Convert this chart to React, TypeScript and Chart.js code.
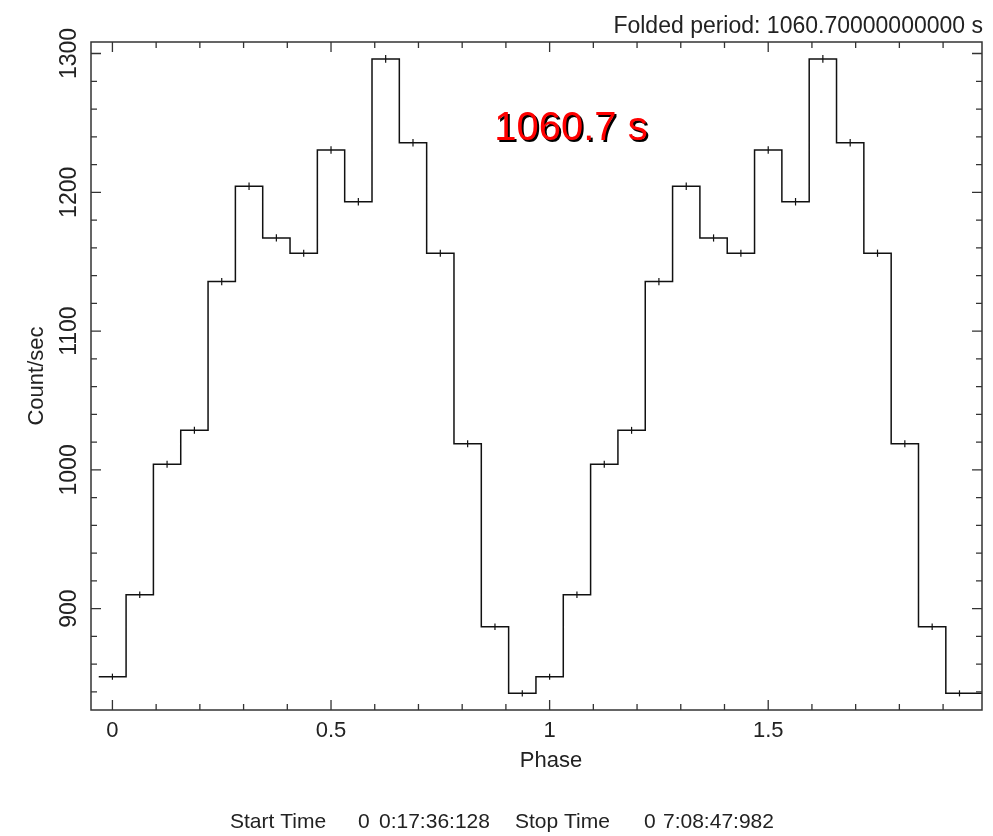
import { useEffect, useRef } from 'react';
import { Chart, registerables } from 'chart.js';

Chart.register(...registerables);

// ---- data ----
const binsPerCycle = 16;
const cycles = 2;
const profile = [851, 910, 1004, 1028.5, 1135.7, 1204.3, 1167.1, 1156.1, 1230.4, 1193.2, 1296.1, 1235.7, 1156.1, 1018.9, 887, 839];
const profileErr = [2.2, 2.3, 2.5, 2.5, 2.6, 2.7, 2.6, 2.6, 2.7, 2.7, 2.8, 2.7, 2.6, 2.5, 2.3, 2.2];
const xMin = -0.049;
const xMax = 1.989;
const yMin = 827;
const yMax = 1308.3;
const xTickValues = [0, 0.5, 1, 1.5];
const xTickLabels = ['0', '0.5', '1', '1.5'];
const yTickValues = [900, 1000, 1100, 1200, 1300];
const yTickLabels = ['900', '1000', '1100', '1200', '1300'];
const xMinorPerUnit = 10;
const yMinorStep = 20;
const periodText = 'Folded period: 1060.70000000000 s';
const bigLabel = '1060.7 s';
const xTitle = 'Phase';
const timeParts = ['Start Time', '0', '0:17:36:128', 'Stop Time', '0', '7:08:47:982'];

// ---- derived tables ----
const binW = 1 / binsPerCycle;
const centers: number[] = [];
const values: number[] = [];
const errs: number[] = [];
for (let c = 0; c < cycles; c++) {
  for (let k = 0; k < binsPerCycle; k++) {
    centers.push(c + k * binW);
    values.push(profile[k]);
    errs.push(profileErr[k]);
  }
}
const stepPoints = centers.map((x, i) => ({ x: x - binW / 2, y: values[i] }));
stepPoints.push({ x: xMax, y: values[values.length - 1] });

const FONT = "'Liberation Sans', Arial, Helvetica, sans-serif";
const INK = '#222';

const framePlugin = {
  id: 'frameTicks',
  afterDatasetsDraw(chart: any) {
    const { ctx, scales } = chart;
    const x = scales.x;
    const y = scales.y;
    ctx.save();
    ctx.strokeStyle = '#111';
    ctx.lineWidth = 1.2;
    centers.forEach((cx, i) => {
      const px = x.getPixelForValue(cx);
      ctx.beginPath();
      ctx.moveTo(px, y.getPixelForValue(values[i] - errs[i]));
      ctx.lineTo(px, y.getPixelForValue(values[i] + errs[i]));
      ctx.stroke();
    });
    ctx.restore();
  },
  afterDraw(chart: any) {
    const { ctx, chartArea: a, scales } = chart;
    const x = scales.x;
    const y = scales.y;
    ctx.save();
    ctx.strokeStyle = '#333';
    ctx.lineWidth = 1.5;
    ctx.strokeRect(a.left, a.top, a.right - a.left, a.bottom - a.top);
    ctx.lineWidth = 1.3;
    const major = 10;
    const minor = 6;
    for (let i = Math.ceil(xMin * xMinorPerUnit); i <= Math.floor(xMax * xMinorPerUnit); i++) {
      const v = i / xMinorPerUnit;
      const isMajor = xTickValues.some((t) => Math.abs(t - v) < 1e-9);
      const len = isMajor ? major : minor;
      const px = x.getPixelForValue(v);
      ctx.beginPath();
      ctx.moveTo(px, a.bottom);
      ctx.lineTo(px, a.bottom - len);
      ctx.moveTo(px, a.top);
      ctx.lineTo(px, a.top + len);
      ctx.stroke();
    }
    for (let i = Math.ceil(yMin / yMinorStep); i <= Math.floor(yMax / yMinorStep); i++) {
      const v = i * yMinorStep;
      const isMajor = yTickValues.includes(v);
      const len = isMajor ? major : minor;
      const py = y.getPixelForValue(v);
      ctx.beginPath();
      ctx.moveTo(a.left, py);
      ctx.lineTo(a.left + len, py);
      ctx.moveTo(a.right, py);
      ctx.lineTo(a.right - len, py);
      ctx.stroke();
    }
    // texts
    ctx.fillStyle = INK;
    ctx.font = `23px ${FONT}`;
    ctx.textAlign = 'right';
    ctx.textBaseline = 'alphabetic';
    ctx.fillText(periodText, a.right + 1, 33);

    ctx.font = `22px ${FONT}`;
    ctx.textAlign = 'center';
    ctx.fillText(xTitle, 551, 767);

    ctx.font = `40px ${FONT}`;
    ctx.fillStyle = '#000';
    ctx.fillText(bigLabel, 573, 142);
    ctx.fillStyle = '#ff0000';
    ctx.fillText(bigLabel, 571, 140);

    ctx.fillStyle = INK;
    ctx.font = `21px ${FONT}`;
    ctx.textAlign = 'left';
    const xs = [230, 358, 379, 515, 644, 663];
    timeParts.forEach((t, i) => ctx.fillText(t, xs[i], 828));
    ctx.restore();
  },
};

export default function App() {
  const ref = useRef<HTMLCanvasElement | null>(null);
  useEffect(() => {
    if (!ref.current) return;
    const chart = new Chart(ref.current, {
      type: 'line',
      data: {
        datasets: [
          {
            data: stepPoints,
            stepped: 'before',
            borderColor: '#111',
            borderWidth: 1.5,
            pointRadius: 0,
            fill: false,
          },
        ],
      },
      options: {
        responsive: false,
        animation: false,
        layout: { padding: { top: 42, right: 11, bottom: 64, left: 0 } },
        plugins: { legend: { display: false }, tooltip: { enabled: false } },
        scales: {
          x: {
            type: 'linear',
            min: xMin,
            max: xMax,
            grid: { display: false, drawTicks: false },
            border: { display: false },
            afterBuildTicks: (s: any) => {
              s.ticks = xTickValues.map((v) => ({ value: v }));
            },
            afterFit: (s: any) => {
              s.height = 62;
            },
            ticks: {
              padding: 8,
              color: INK,
              font: { family: FONT, size: 22 },
              maxRotation: 0,
              minRotation: 0,
              callback: (v: any) => {
                const i = xTickValues.findIndex((t) => Math.abs(t - v) < 1e-9);
                return i >= 0 ? xTickLabels[i] : '';
              },
            },
          },
          y: {
            type: 'linear',
            min: yMin,
            max: yMax,
            grid: { display: false, drawTicks: false },
            border: { display: false },
            afterBuildTicks: (s: any) => {
              s.ticks = yTickValues.map((v) => ({ value: v }));
            },
            afterFit: (s: any) => {
              s.width = 91;
            },
            ticks: {
              padding: -4,
              color: INK,
              crossAlign: 'center',
              minRotation: 90,
              maxRotation: 90,
              font: { family: FONT, size: 23 },
              callback: (v: any) => {
                const i = yTickValues.indexOf(v);
                return i >= 0 ? yTickLabels[i] : '';
              },
            },
            title: {
              display: true,
              text: 'Count/sec',
              color: INK,
              font: { family: FONT, size: 22 },
              padding: { top: 24, bottom: 0 },
            },
          },
        },
      },
      plugins: [framePlugin],
    } as any);
    return () => chart.destroy();
  }, []);
  return (
    <div style={{ position: 'absolute', left: 0, top: 0, width: 993, height: 836, background: '#fff' }}>
      <canvas ref={ref} width={993} height={836} style={{ display: 'block' }} />
    </div>
  );
}
